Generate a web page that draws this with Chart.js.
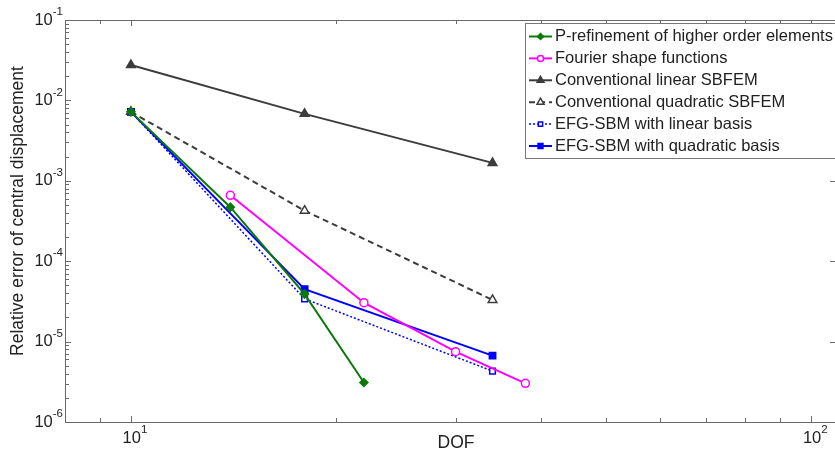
<!DOCTYPE html>
<html>
<head>
<meta charset="utf-8">
<script src="https://cdn.jsdelivr.net/npm/chart.js@4"></script>
<style>
  html, body { margin: 0; padding: 0; background: #fff; }
  #wrap { width: 835px; height: 459px; }
</style>
</head>
<body>
<div id="wrap"><canvas id="errChart" width="835" height="459"></canvas></div>
<script>
// values
const dofSBFEM = [10, 18, 34];
const dofP = [10, 14, 18, 22];
const dofFourier = [14, 22, 30, 38];

const errP = [0.0072, 4.7e-4, 3.9e-5, 3.1e-6];
const errFourier = [6.6e-4, 3.05e-5, 7.5e-6, 3.03e-6];
const errLinSBFEM = [0.0275, 0.0068, 0.00167];
const errQuadSBFEM = [0.0072, 4.25e-4, 3.3e-5];
const errEfgLin = [0.0072, 3.4e-5, 4.3e-6];
const errEfgQuad = [0.0072, 4.5e-5, 6.7e-6];

const yExponents = [-6, -5, -4, -3, -2, -1];
const xExponents = [1, 2];
const xMinor = [9, 20, 30, 40, 50, 60, 70, 80, 90];

const labels = [
    'P-refinement of higher order elements',
    'Fourier shape functions',
    'Conventional linear SBFEM',
    'Conventional quadratic SBFEM',
    'EFG-SBM with linear basis',
    'EFG-SBM with quadratic basis'
];

function pts(xs, ys) {
    return xs.map((x, i) => ({ x: x, y: ys[i] }));
}

const FONT = '"Liberation Sans", Arial, sans-serif';

function drawPower(ctx, x, y, exp, align) {
    // "10" with raised exponent
    ctx.font = '16.5px ' + FONT;
    const wb = ctx.measureText('10').width;
    ctx.font = '11.5px ' + FONT;
    const we = ctx.measureText(String(exp)).width;
    let left = x;
    if (align === 'right') left = x - wb - we;
    if (align === 'center') left = x - (wb + we) / 2;
    ctx.textAlign = 'left';
    ctx.textBaseline = 'middle';
    ctx.font = '16.5px ' + FONT;
    ctx.fillText('10', left, y);
    ctx.font = '11.5px ' + FONT;
    ctx.fillText(String(exp), left + wb, y - 8);
}

const axesPlugin = {
    id: 'matlabAxes',
    afterDatasetsDraw(chart) {
        const { ctx, chartArea: a, scales } = chart;
        const xs = scales.x, ys = scales.y;
        ctx.save();
        ctx.strokeStyle = '#6a6a6a';
        ctx.lineWidth = 1;
        // axes box; the right edge sits just outside the picture
        ctx.beginPath();
        ctx.moveTo(a.right + 2, a.top + 0.5);
        ctx.lineTo(a.left + 0.5, a.top + 0.5);
        ctx.lineTo(a.left + 0.5, a.bottom + 0.5);
        ctx.lineTo(a.right + 2, a.bottom + 0.5);
        ctx.stroke();

        ctx.beginPath();
        yExponents.forEach(e => {
            const py = Math.round(ys.getPixelForValue(Math.pow(10, e))) + 0.5;
            ctx.moveTo(a.left, py); ctx.lineTo(a.left + 6, py);
            ctx.moveTo(a.right + 1, py); ctx.lineTo(a.right - 4, py);
            if (e < -1) {
                for (let m = 2; m <= 9; m++) {
                    const pm = Math.round(ys.getPixelForValue(m * Math.pow(10, e))) + 0.5;
                    ctx.moveTo(a.left, pm); ctx.lineTo(a.left + 4, pm);
                }
            }
        });
        xExponents.forEach(e => {
            const px = Math.round(xs.getPixelForValue(Math.pow(10, e))) + 0.5;
            ctx.moveTo(px, a.bottom); ctx.lineTo(px, a.bottom - 6);
            ctx.moveTo(px, a.top); ctx.lineTo(px, a.top + 6);
        });
        xMinor.forEach(v => {
            const px = Math.round(xs.getPixelForValue(v)) + 0.5;
            ctx.moveTo(px, a.bottom); ctx.lineTo(px, a.bottom - 4);
            ctx.moveTo(px, a.top); ctx.lineTo(px, a.top + 4);
        });
        ctx.stroke();

        ctx.fillStyle = '#222';
        yExponents.forEach(e => {
            drawPower(ctx, a.left - 2, ys.getPixelForValue(Math.pow(10, e)), e, 'right');
        });
        xExponents.forEach(e => {
            drawPower(ctx, xs.getPixelForValue(Math.pow(10, e)) + 4, a.bottom + 16, e, 'center');
        });

        ctx.font = '17.5px ' + FONT;
        ctx.textAlign = 'center';
        ctx.textBaseline = 'middle';
        ctx.fillText('DOF', 456, 443);
        ctx.save();
        ctx.translate(18, 211);
        ctx.rotate(-Math.PI / 2);
        ctx.fillText('Relative error of central displacement', 0, 0);
        ctx.restore();

        // legend box inside the axes
        const lx = 525, ly = 23, lw = 320, lh = 135;
        ctx.fillStyle = '#fff';
        ctx.fillRect(lx, ly, lw, lh);
        ctx.strokeStyle = '#777';
        ctx.strokeRect(lx + 0.5, ly + 0.5, lw, lh);
        chart.data.datasets.forEach((ds, i) => {
            const cy = 36.5 + i * 21.9;
            ctx.save();
            ctx.strokeStyle = ds.borderColor;
            ctx.lineWidth = ds.borderWidth;
            ctx.setLineDash(ds.borderDash || []);
            ctx.beginPath();
            ctx.moveTo(529, cy); ctx.lineTo(552, cy);
            ctx.stroke();
            ctx.setLineDash([]);
            ctx.fillStyle = ds.pointBackgroundColor;
            ctx.strokeStyle = ds.pointBorderColor;
            ctx.lineWidth = ds.pointBorderWidth;
            Chart.helpers.drawPoint(ctx, {
                pointStyle: ds.pointStyle,
                radius: ds.pointRadius - 1,
                rotation: 0,
                borderWidth: ds.pointBorderWidth
            }, 540.5, cy);
            ctx.restore();
            ctx.fillStyle = '#222';
            ctx.font = '16.5px ' + FONT;
            ctx.textAlign = 'left';
            ctx.textBaseline = 'middle';
            ctx.fillText(ds.label, 555, cy);
        });
        ctx.restore();
    }
};

function series(label, data, color, opts) {
    return Object.assign({
        label: label,
        data: data,
        borderColor: color,
        backgroundColor: color,
        pointBackgroundColor: color,
        pointBorderColor: color,
        borderWidth: 2,
        pointBorderWidth: 1.5,
        pointRadius: 4,
        pointHoverRadius: 4,
        tension: 0,
        fill: false
    }, opts || {});
}

const datasets = [
    series(labels[0], pts(dofP, errP), '#0b7a0b', { pointStyle: 'rectRot', pointRadius: 4 }),
    series(labels[1], pts(dofFourier, errFourier), '#ff00ff', { pointStyle: 'circle', pointBackgroundColor: '#fff', pointRadius: 4 }),
    series(labels[2], pts(dofSBFEM, errLinSBFEM), '#3c3c3c', { pointStyle: 'triangle', pointRadius: 5 }),
    series(labels[3], pts(dofSBFEM, errQuadSBFEM), '#3c3c3c', { pointStyle: 'triangle', pointRadius: 5, borderDash: [6, 4], pointBackgroundColor: '#fff' }),
    series(labels[4], pts(dofSBFEM, errEfgLin), '#0000ff', { pointStyle: 'rect', pointRadius: 4, borderDash: [2, 2], borderWidth: 1.5, pointBackgroundColor: '#fff' }),
    series(labels[5], pts(dofSBFEM, errEfgQuad), '#0000ff', { pointStyle: 'rect', pointRadius: 4.5 })
];

const chart = new Chart(document.getElementById('errChart'), {
    type: 'line',
    data: { datasets: datasets },
    options: {
        responsive: false,
        animation: false,
        layout: { autoPadding: false, padding: { top: 20, right: 1, left: 0, bottom: 0 } },
        plugins: { legend: { display: false }, tooltip: { enabled: false } },
        scales: {
            x: {
                type: 'logarithmic',
                min: 8,
                max: 108,
                grid: { display: false },
                border: { display: false },
                ticks: { display: false },
                afterFit(scale) { scale.height = 37; }
            },
            y: {
                type: 'logarithmic',
                min: 1e-6,
                max: 1e-1,
                grid: { display: false },
                border: { display: false },
                ticks: { display: false },
                afterFit(scale) { scale.width = 65; }
            }
        }
    },
    plugins: [axesPlugin]
});
</script>
</body>
</html>
